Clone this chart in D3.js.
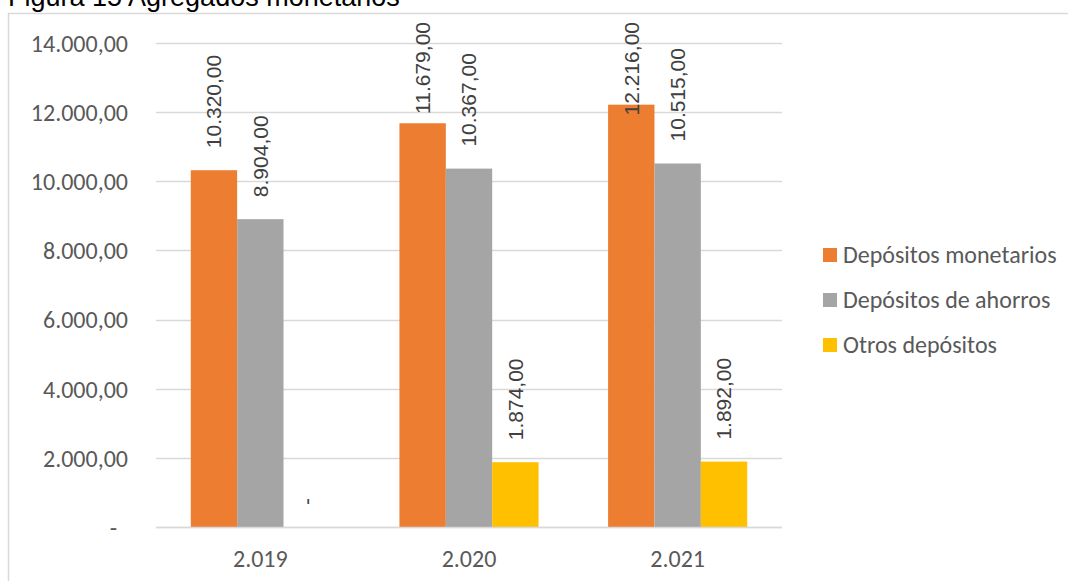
<!DOCTYPE html>
<html>
<head>
<meta charset="utf-8">
<script src="https://cdn.jsdelivr.net/npm/d3@7"></script>
<style>
  html, body { margin: 0; padding: 0; background: #fff; }
  svg { display: block; }
</style>
</head>
<body>
<svg id="chart" width="1068" height="581"></svg>
<script>
// Años y series de depósitos
const years = ["2.019", "2.020", "2.021"];
const seriesNames = ["Depósitos monetarios", "Depósitos de ahorros", "Otros depósitos"];
const monetarios = [10320, 11679, 12216];
const ahorros = [8904, 10367, 10515];
const otros = [0, 1874, 1892];
const yTicks = [0, 2000, 4000, 6000, 8000, 10000, 12000, 14000];
const colors = ["#ED7D31", "#A5A5A5", "#FFC000"];

const seriesValues = [monetarios, ahorros, otros];

const locale = d3.formatLocale({ decimal: ",", thousands: ".", grouping: [3], currency: ["", ""] });
const fmt = locale.format(",.2f");
const fmtVal = v => v === 0 ? "-" : fmt(v);

const svg = d3.select("#chart");
const axisFont = "Carlito, Calibri, sans-serif";
const axisSize = 24;
const labelFont = "'Liberation Sans', Arial, sans-serif";

// Marco del gráfico y título
svg.append("text")
  .attr("x", 8).attr("y", 6)
  .attr("font-family", labelFont).attr("font-size", 27)
  .attr("fill", "#000")
  .text("Figura 15 Agregados monetarios");

svg.append("path")
  .attr("d", "M8.5,581 V13.5 H1068")
  .attr("fill", "none").attr("stroke", "#D9D9D9").attr("stroke-width", 1.5);

const plot = { left: 156, right: 782, top: 43, bottom: 527 };

const y = d3.scaleLinear().domain([0, 14000]).range([plot.bottom, plot.top]);
const x0 = d3.scaleBand().domain(years).range([plot.left, plot.right]).paddingInner(0).paddingOuter(0);
const x1 = d3.scaleBand().domain(seriesNames).range([0, x0.bandwidth()]).paddingInner(0).paddingOuter(0.75);

// Líneas de cuadrícula
svg.append("g").selectAll("line").data(yTicks).join("line")
  .attr("x1", plot.left).attr("x2", plot.right)
  .attr("y1", d => Math.round(y(d)) + 0.5).attr("y2", d => Math.round(y(d)) + 0.5)
  .attr("stroke", "#D9D9D9").attr("stroke-width", 1.5);

// Eje Y
const yAxis = svg.append("g")
  .attr("transform", `translate(${plot.left - 28},0)`)
  .call(d3.axisLeft(y).tickValues(yTicks).tickSize(0).tickPadding(0).tickFormat(fmtVal));
yAxis.select(".domain").remove();
yAxis.selectAll("text")
  .attr("font-family", axisFont).attr("font-size", axisSize).attr("fill", "#595959")
  .attr("dy", "0.35em")
  .attr("dx", d => d === 0 ? -11 : 0);

// Eje X
const xAxis = svg.append("g")
  .attr("transform", `translate(0,${plot.bottom})`)
  .call(d3.axisBottom(x0).tickSize(0).tickPadding(0));
xAxis.select(".domain").remove();
xAxis.selectAll("text")
  .attr("font-family", axisFont).attr("font-size", axisSize).attr("fill", "#595959")
  .attr("y", 40).attr("dy", 0);

// Barras
const rows = [];
years.forEach((yr, i) => {
  seriesNames.forEach((s, j) => {
    rows.push({ year: yr, series: s, value: seriesValues[j][i], color: colors[j] });
  });
});

svg.append("g").selectAll("rect").data(rows).join("rect")
  .attr("x", d => x0(d.year) + x1(d.series))
  .attr("y", d => y(d.value))
  .attr("width", x1.bandwidth())
  .attr("height", d => y(0) - y(d.value))
  .attr("fill", d => d.color);

// Línea base
svg.append("line")
  .attr("x1", plot.left).attr("x2", plot.right)
  .attr("y1", plot.bottom + 0.5).attr("y2", plot.bottom + 0.5)
  .attr("stroke", "#D9D9D9").attr("stroke-width", 1.5);

// Etiquetas de valor verticales
const labels = svg.append("g").selectAll("text").data(rows).join("text")
  .attr("font-family", labelFont).attr("font-size", 21).attr("fill", "#404040")
  .attr("dy", "0.35em")
  .text(d => fmtVal(d.value));

labels.each(function(d) {
  const len = this.getComputedTextLength();
  const cx = x0(d.year) + x1(d.series) + x1.bandwidth() / 2;
  let base = y(d.value) - 22;
  if (base - len < 22) base = 22 + len;
  d3.select(this).attr("transform", `translate(${cx},${base}) rotate(-90)`);
});

// Leyenda
const legend = svg.append("g");
seriesNames.forEach((s, j) => {
  const cy = 255 + j * 45;
  legend.append("rect")
    .attr("x", 823).attr("y", cy - 7).attr("width", 14).attr("height", 14)
    .attr("fill", colors[j]);
  legend.append("text")
    .attr("x", 843).attr("y", cy).attr("dy", "0.35em")
    .attr("font-family", axisFont).attr("font-size", axisSize).attr("fill", "#595959")
    .text(s);
});
</script>
</body>
</html>
